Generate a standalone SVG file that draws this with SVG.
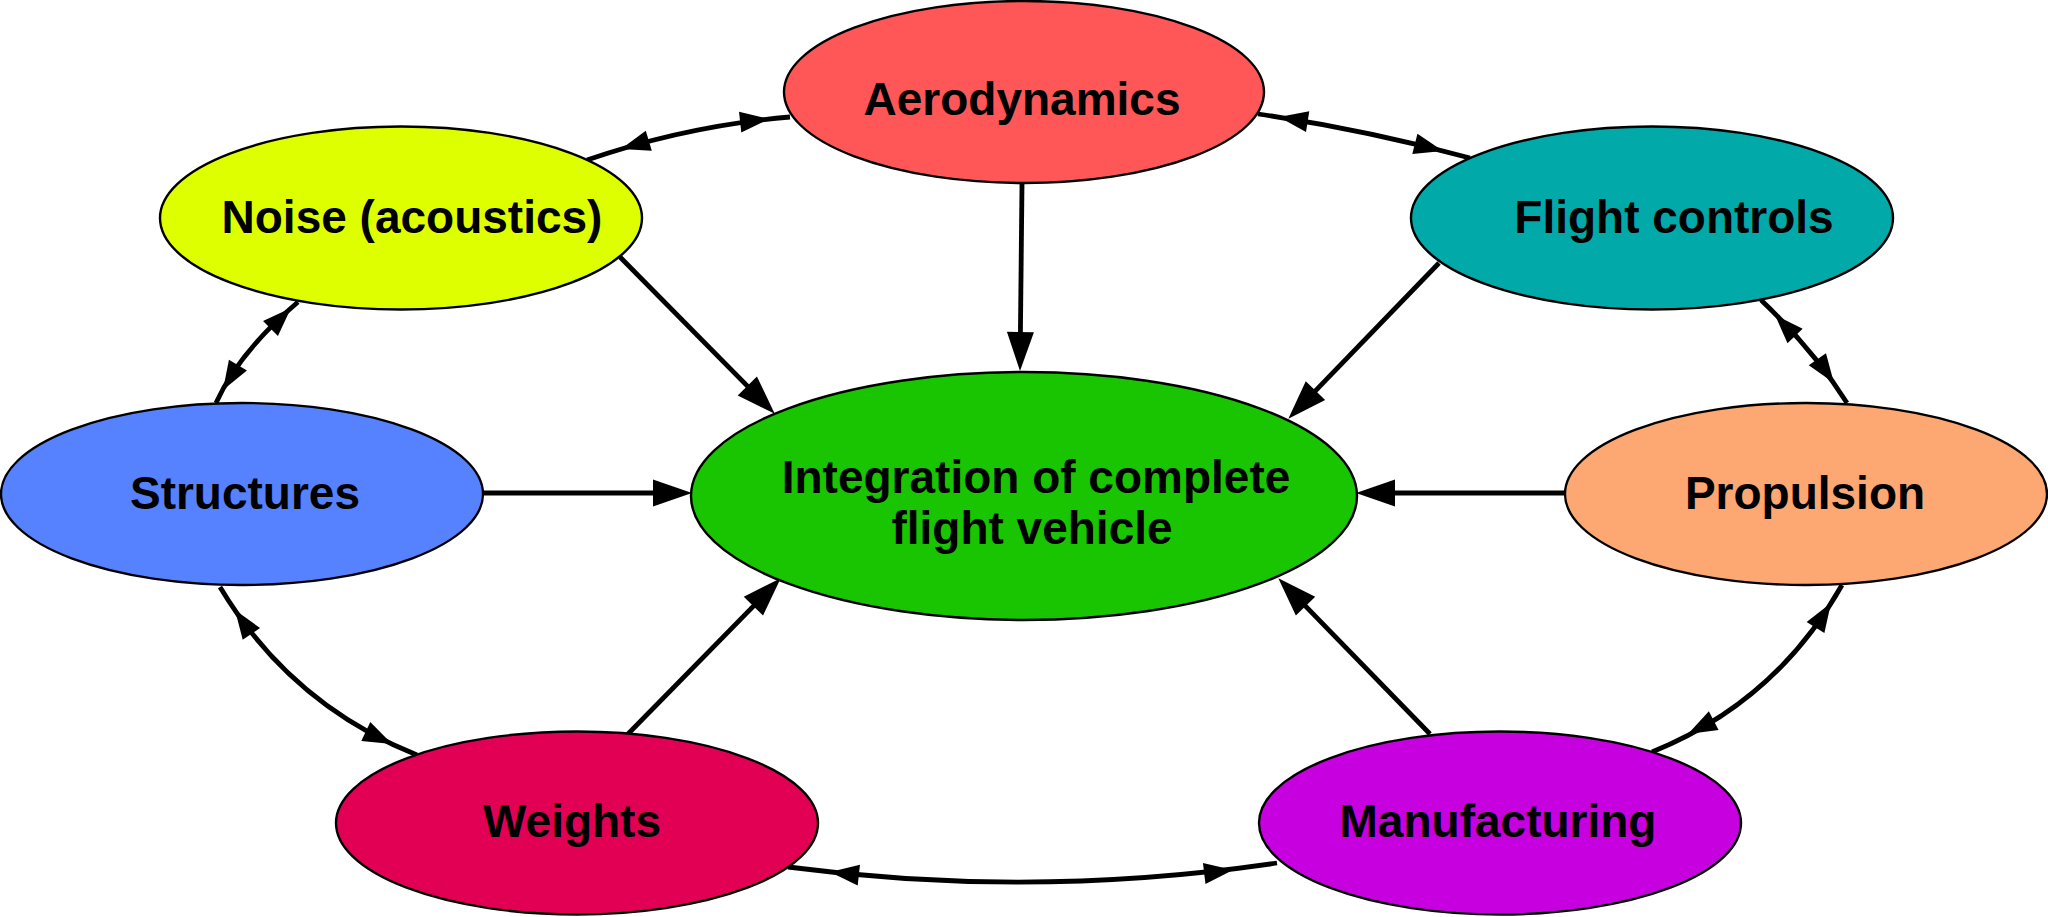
<svg xmlns="http://www.w3.org/2000/svg" xmlns:xlink="http://www.w3.org/1999/xlink" width="2048" height="917" viewBox="0 0 2048 917">
<style>
.node ellipse{stroke:#000;stroke-width:2.4}
.node text{font-family:"Liberation Sans",Arial,sans-serif;font-weight:bold;font-size:46px;fill:#000;text-anchor:middle}
.conn path.l{fill:none;stroke:#000;stroke-width:4.8}
.conn use{fill:#000}
</style>
<defs>
<marker id="big" markerUnits="userSpaceOnUse" markerWidth="42" markerHeight="30" refX="30" refY="13.5" orient="auto" overflow="visible">
<path d="M0,0 L39,13.5 L0,27 Z" fill="#000"/>
</marker>
<path id="ah" d="M0,0 L-29,-10.5 L-29,10.5 Z"/>
</defs>
<rect width="2048" height="917" fill="#fff"/>
<g class="conn" id="connectors">
<path class="l" d="M1022,184 L1020.1,362" marker-end="url(#big)"/>
<path class="l" d="M620,257 L768.4,407.3" marker-end="url(#big)"/>
<path class="l" d="M1439,263 L1294.6,412.3" marker-end="url(#big)"/>
<path class="l" d="M483,493 L683,493" marker-end="url(#big)"/>
<path class="l" d="M1565,493 L1365,493" marker-end="url(#big)"/>
<path class="l" d="M627,735 L774.4,584.7" marker-end="url(#big)"/>
<path class="l" d="M1430,734 L1284.6,584.7" marker-end="url(#big)"/>
<path class="l" d="M587,160 Q687.5,125.5 790,117"/>
<use href="#ah" transform="translate(621 149) rotate(163.4)"/>
<use href="#ah" transform="translate(769 119) rotate(-6.2)"/>
<path class="l" d="M1258,114 Q1364,129.5 1470,158"/>
<use href="#ah" transform="translate(1279 117) rotate(-171)"/>
<use href="#ah" transform="translate(1443 151) rotate(14.2)"/>
<path class="l" d="M1761,300 Q1814,350.5 1847,403"/>
<use href="#ah" transform="translate(1775 315) rotate(-133.8)"/>
<use href="#ah" transform="translate(1834 383) rotate(55)"/>
<path class="l" d="M298,302 Q239,352 216,403"/>
<use href="#ah" transform="translate(291 308) rotate(-45)"/>
<use href="#ah" transform="translate(223 390) rotate(121)"/>
<path class="l" d="M220,587 Q290,704 417,755"/>
<use href="#ah" transform="translate(235 610) rotate(-124.4)"/>
<use href="#ah" transform="translate(392 744) rotate(25.4)"/>
<path class="l" d="M1842,585 Q1776,702 1652,752"/>
<use href="#ah" transform="translate(1831 603) rotate(-57.7)"/>
<use href="#ah" transform="translate(1688 734) rotate(152.5)"/>
<path class="l" d="M788,867 Q1032,899 1277,863"/>
<use href="#ah" transform="translate(830 872) rotate(-173.9)"/>
<use href="#ah" transform="translate(1233 870) rotate(-7)"/>
</g>
<g class="node" id="aerodynamics">
<ellipse cx="1024" cy="92" rx="240" ry="91" fill="#FF5757"/>
<text x="1022" y="115">Aerodynamics</text>
</g>
<g class="node" id="noise">
<ellipse cx="401" cy="218" rx="241" ry="91.5" fill="#DEFF00"/>
<text x="412" y="233">Noise (acoustics)</text>
</g>
<g class="node" id="flight-controls">
<ellipse cx="1652" cy="218" rx="241" ry="91.5" fill="#01A9A9"/>
<text x="1674" y="233">Flight controls</text>
</g>
<g class="node" id="structures">
<ellipse cx="242" cy="494" rx="241" ry="91" fill="#5682FF"/>
<text x="245" y="509">Structures</text>
</g>
<g class="node" id="integration">
<ellipse cx="1024" cy="496" rx="333" ry="124" fill="#19C500"/>
<text x="1036" y="493">Integration of complete</text>
<text x="1032" y="544">flight vehicle</text>
</g>
<g class="node" id="propulsion">
<ellipse cx="1806" cy="494" rx="241" ry="91" fill="#FDA772"/>
<text x="1805" y="509">Propulsion</text>
</g>
<g class="node" id="weights">
<ellipse cx="577" cy="823" rx="241" ry="91.5" fill="#E10054"/>
<text x="572" y="837">Weights</text>
</g>
<g class="node" id="manufacturing">
<ellipse cx="1500" cy="823" rx="241" ry="91.5" fill="#C600DE"/>
<text x="1498" y="837">Manufacturing</text>
</g>
</svg>
